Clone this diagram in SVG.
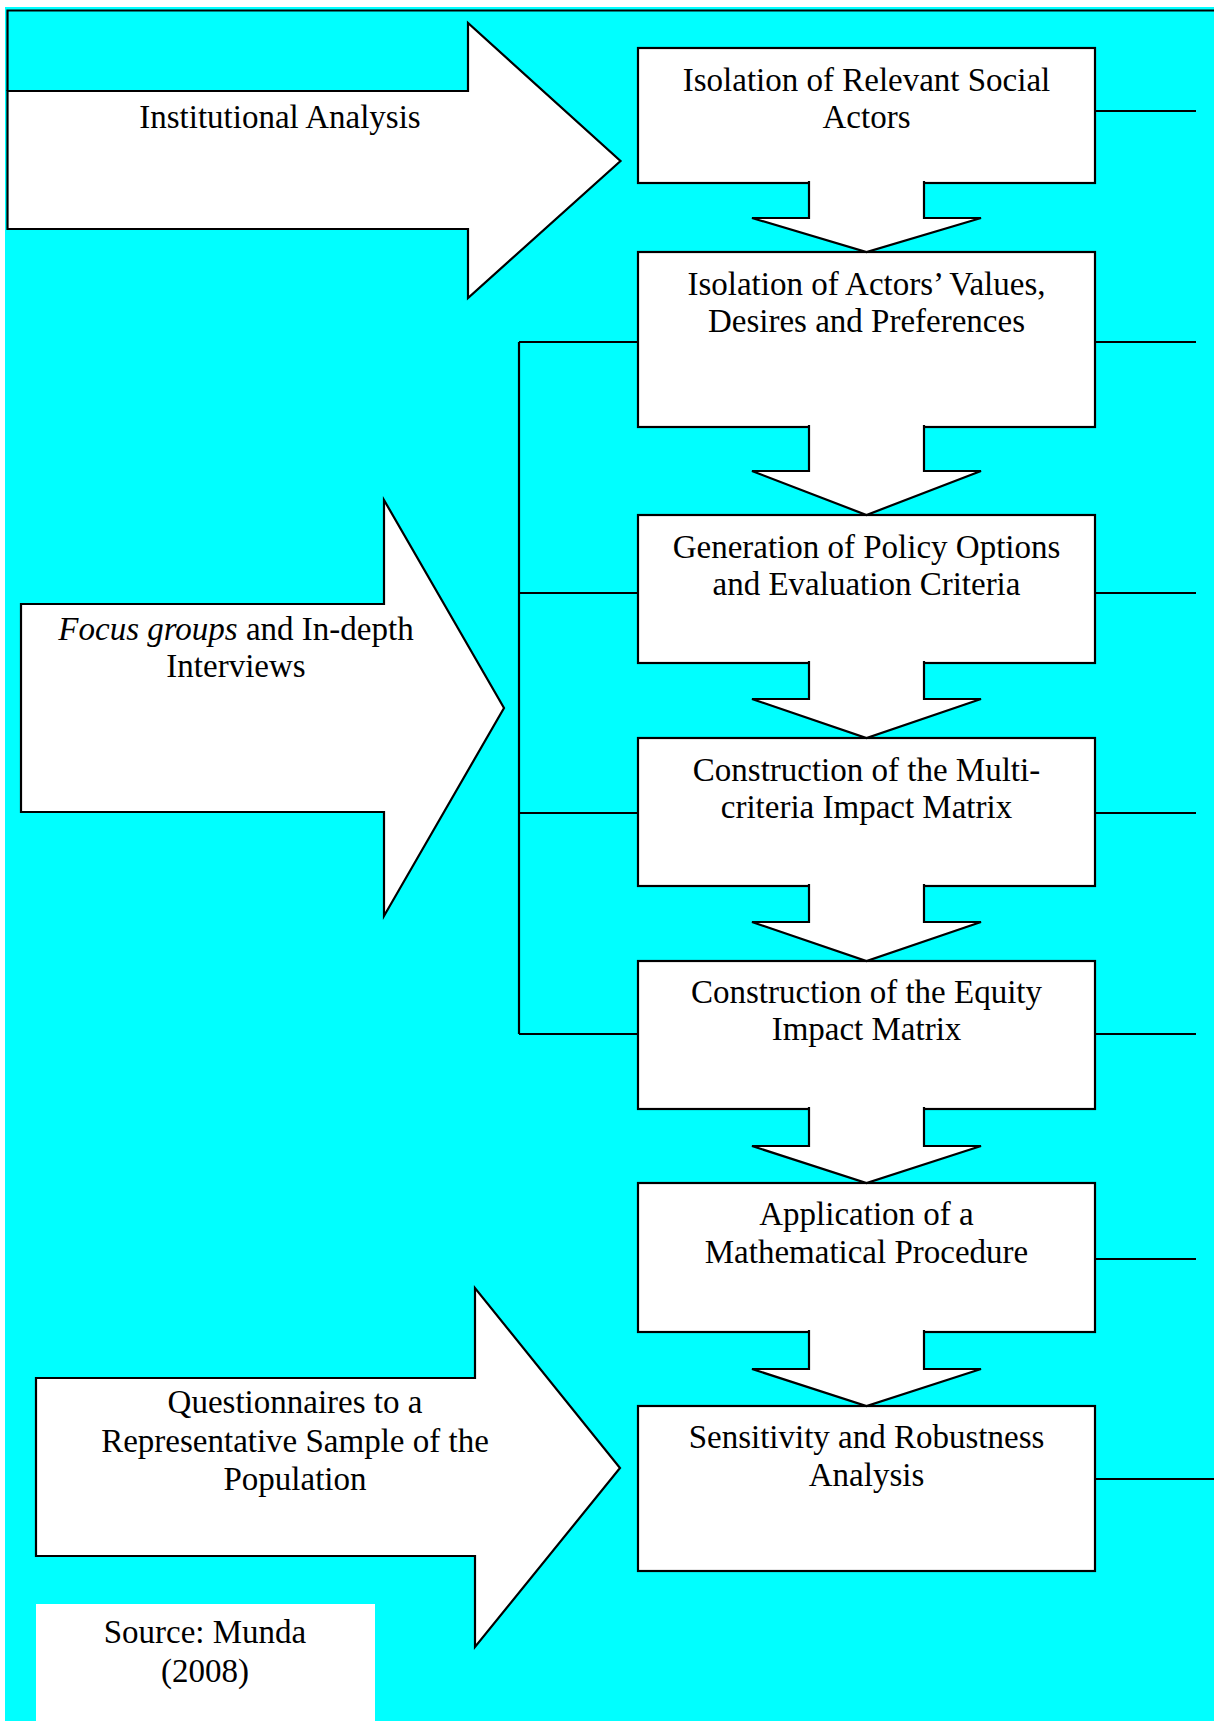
<svg xmlns="http://www.w3.org/2000/svg" width="1214" height="1721" viewBox="0 0 1214 1721">
<style>
.shape{fill:#fff;stroke:#000;stroke-width:2.2;stroke-linejoin:miter}
.ln{fill:none;stroke:#000;stroke-width:2.2}
.t{font-family:"Liberation Serif","Times New Roman",serif;font-size:33px;fill:#000;text-anchor:middle}
</style>
<rect x="0" y="0" width="1214" height="1721" fill="#fff"/>
<rect x="5" y="7" width="1209" height="1714" fill="#00FFFF"/>
<path class="ln" d="M7.5,91 V10.5 H1214"/>

<g id="input-institutional">
<polygon class="shape" points="7.5,91 468,91 468,23 620.5,161 468,298 468,229 7.5,229"/>
<text class="t" x="280" y="128">Institutional Analysis</text>
</g>
<g id="input-focus">
<polygon class="shape" points="21,604 384,604 384,500 504,708 384,916 384,812 21,812"/>
<text class="t" x="236" y="640"><tspan font-style="italic">Focus groups</tspan> and In-depth</text>
<text class="t" x="236" y="677">Interviews</text>
</g>
<g id="input-questionnaires">
<polygon class="shape" points="36,1378 475,1378 475,1288 620,1468 475,1647 475,1556 36,1556"/>
<text class="t" x="295" y="1413">Questionnaires to a</text>
<text class="t" x="295" y="1452">Representative Sample of the</text>
<text class="t" x="295" y="1490">Population</text>
</g>
<g id="source">
<rect x="36" y="1604" width="339" height="117" fill="#fff"/>
<text class="t" x="205" y="1643">Source: Munda</text>
<text class="t" x="205" y="1682">(2008)</text>
</g>

<g id="connectors">
<path class="ln" d="M519,342 V1034 M519,342 H638 M519,593 H638 M519,813 H638 M519,1034 H638"/>
<path class="ln" d="M1095,111 H1196 M1095,342 H1196 M1095,593 H1196 M1095,813 H1196 M1095,1034 H1196 M1095,1259 H1196 M1095,1479 H1214"/>
</g>

<g id="step1">
<rect class="shape" x="638" y="48" width="457" height="135"/>
<text class="t" x="866.5" y="91">Isolation of Relevant Social</text>
<text class="t" x="866.5" y="128">Actors</text>
</g>
<g id="step2">
<rect class="shape" x="638" y="252" width="457" height="175"/>
<text class="t" x="866.5" y="295">Isolation of Actors’ Values,</text>
<text class="t" x="866.5" y="332">Desires and Preferences</text>
</g>
<g id="step3">
<rect class="shape" x="638" y="515" width="457" height="148"/>
<text class="t" x="866.5" y="558">Generation of Policy Options</text>
<text class="t" x="866.5" y="595">and Evaluation Criteria</text>
</g>
<g id="step4">
<rect class="shape" x="638" y="738" width="457" height="148"/>
<text class="t" x="866.5" y="781">Construction of the Multi-</text>
<text class="t" x="866.5" y="818">criteria Impact Matrix</text>
</g>
<g id="step5">
<rect class="shape" x="638" y="961" width="457" height="148"/>
<text class="t" x="866.5" y="1003">Construction of the Equity</text>
<text class="t" x="866.5" y="1040">Impact Matrix</text>
</g>
<g id="step6">
<rect class="shape" x="638" y="1183" width="457" height="149"/>
<text class="t" x="866.5" y="1225">Application of a</text>
<text class="t" x="866.5" y="1263">Mathematical Procedure</text>
</g>
<g id="step7">
<rect class="shape" x="638" y="1406" width="457" height="165"/>
<text class="t" x="866.5" y="1448">Sensitivity and Robustness</text>
<text class="t" x="866.5" y="1486">Analysis</text>
</g>

<g id="flow-arrows">
<path class="shape" d="M809,181 V218 H752 L866.5,252 L981,218 H924 V181"/>
<path class="shape" d="M809,425 V471 H752 L866.5,515 L981,471 H924 V425"/>
<path class="shape" d="M809,661 V699 H752 L866.5,738 L981,699 H924 V661"/>
<path class="shape" d="M809,884 V922 H752 L866.5,961 L981,922 H924 V884"/>
<path class="shape" d="M809,1107 V1146 H752 L866.5,1183 L981,1146 H924 V1107"/>
<path class="shape" d="M809,1330 V1369 H752 L866.5,1406 L981,1369 H924 V1330"/>
</g>
</svg>
